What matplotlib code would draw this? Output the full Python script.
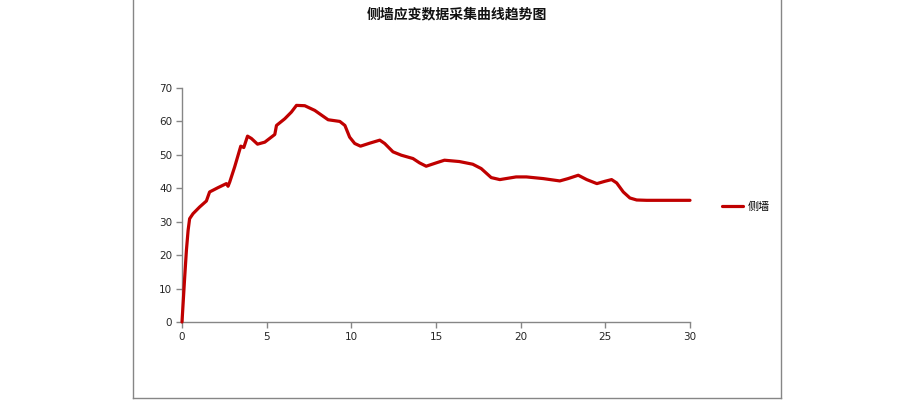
import matplotlib
matplotlib.use("Agg")
import matplotlib.pyplot as plt
from matplotlib.lines import Line2D

CJK = ["Noto Sans CJK SC", "DejaVu Sans"]
RED = "#C00000"; AX = "#868686"; INK = "#262626"

# side-wall strain readings
t = [0, 0.16, 0.26, 0.36, 0.45, 0.65, 1.04, 1.44, 1.63, 2.13,
     2.62, 2.72, 2.82, 3.11, 3.47, 3.65, 3.87, 4.1, 4.46, 4.89,
     5.48, 5.58, 6.07, 6.46, 6.76, 7.25, 7.84, 8.63, 9.32, 9.62,
     9.9, 10.2, 10.54, 11.09, 11.68, 11.97, 12.46, 12.95, 13.64, 14.03,
     14.42, 15.01, 15.5, 16.38, 17.17, 17.67, 18.26, 18.77, 19.73, 20.34,
     21.33, 22.31, 22.8, 23.4, 23.9, 24.5, 24.98, 25.37, 25.67, 26.06,
     26.45, 26.85, 27.44, 28.5, 30]
strain = [0, 13.5, 21.4, 27.4, 30.9, 32.4, 34.4, 36.2, 38.9, 40.2,
          41.4, 40.6, 41.9, 46.4, 52.6, 52.2, 55.6, 54.9, 53.2, 53.8,
          56.1, 58.8, 60.8, 62.8, 64.8, 64.7, 63.3, 60.5, 60.0, 58.8,
          55.3, 53.4, 52.6, 53.5, 54.4, 53.4, 50.9, 49.9, 48.9, 47.6,
          46.6, 47.6, 48.4, 48.0, 47.2, 45.9, 43.2, 42.6, 43.4, 43.4,
          42.9, 42.2, 42.9, 43.9, 42.6, 41.4, 42.1, 42.6, 41.6, 38.9,
          37.1, 36.5, 36.4, 36.4, 36.4]
xticks = [0, 5, 10, 15, 20, 25, 30]
yticks = [0, 10, 20, 30, 40, 50, 60, 70]
title = "侧墙应变数据采集曲线趋势图"
series_name = "侧墙"

fig = plt.figure(figsize=(9, 4), dpi=100)
ax = fig.add_axes([182/900, 1-322/400, (690-182)/900, (322-88)/400])

ax.plot(t, strain, color=RED, lw=2.3, solid_joinstyle="round", solid_capstyle="round",
        label=series_name, clip_on=False, zorder=3)
ax.set_xlim(0, 30); ax.set_ylim(0, 70)
ax.set_xticks(xticks); ax.set_yticks(yticks)
for s in ["top", "right"]:
    ax.spines[s].set_visible(False)
for s in ["left", "bottom"]:
    ax.spines[s].set_color(AX); ax.spines[s].set_linewidth(1.0)
ax.tick_params(direction="out", length=4, width=1, color=AX, labelsize=7.5, labelcolor=INK, pad=3)

# outer chart-area frame
for xs, ys in [([133/900, 133/900], [2/400, 1.01]), ([781/900, 781/900], [2/400, 1.01]),
               ([133/900, 781/900], [2/400, 2/400])]:
    fig.add_artist(Line2D(xs, ys, color=AX, lw=1.0, transform=fig.transFigure))

fig.text(457/900, 1-14/400, title, ha="center", va="center", fontsize=10,
         fontweight="bold", family=CJK, color="#111111")

ax.legend(loc="center left", bbox_to_anchor=(712/900, 1-207/400), bbox_transform=fig.transFigure,
          frameon=False, handlelength=1.9, handletextpad=0.4, prop={"family": CJK, "size": 8})

fig.savefig("out.png", dpi=100, facecolor="white")
